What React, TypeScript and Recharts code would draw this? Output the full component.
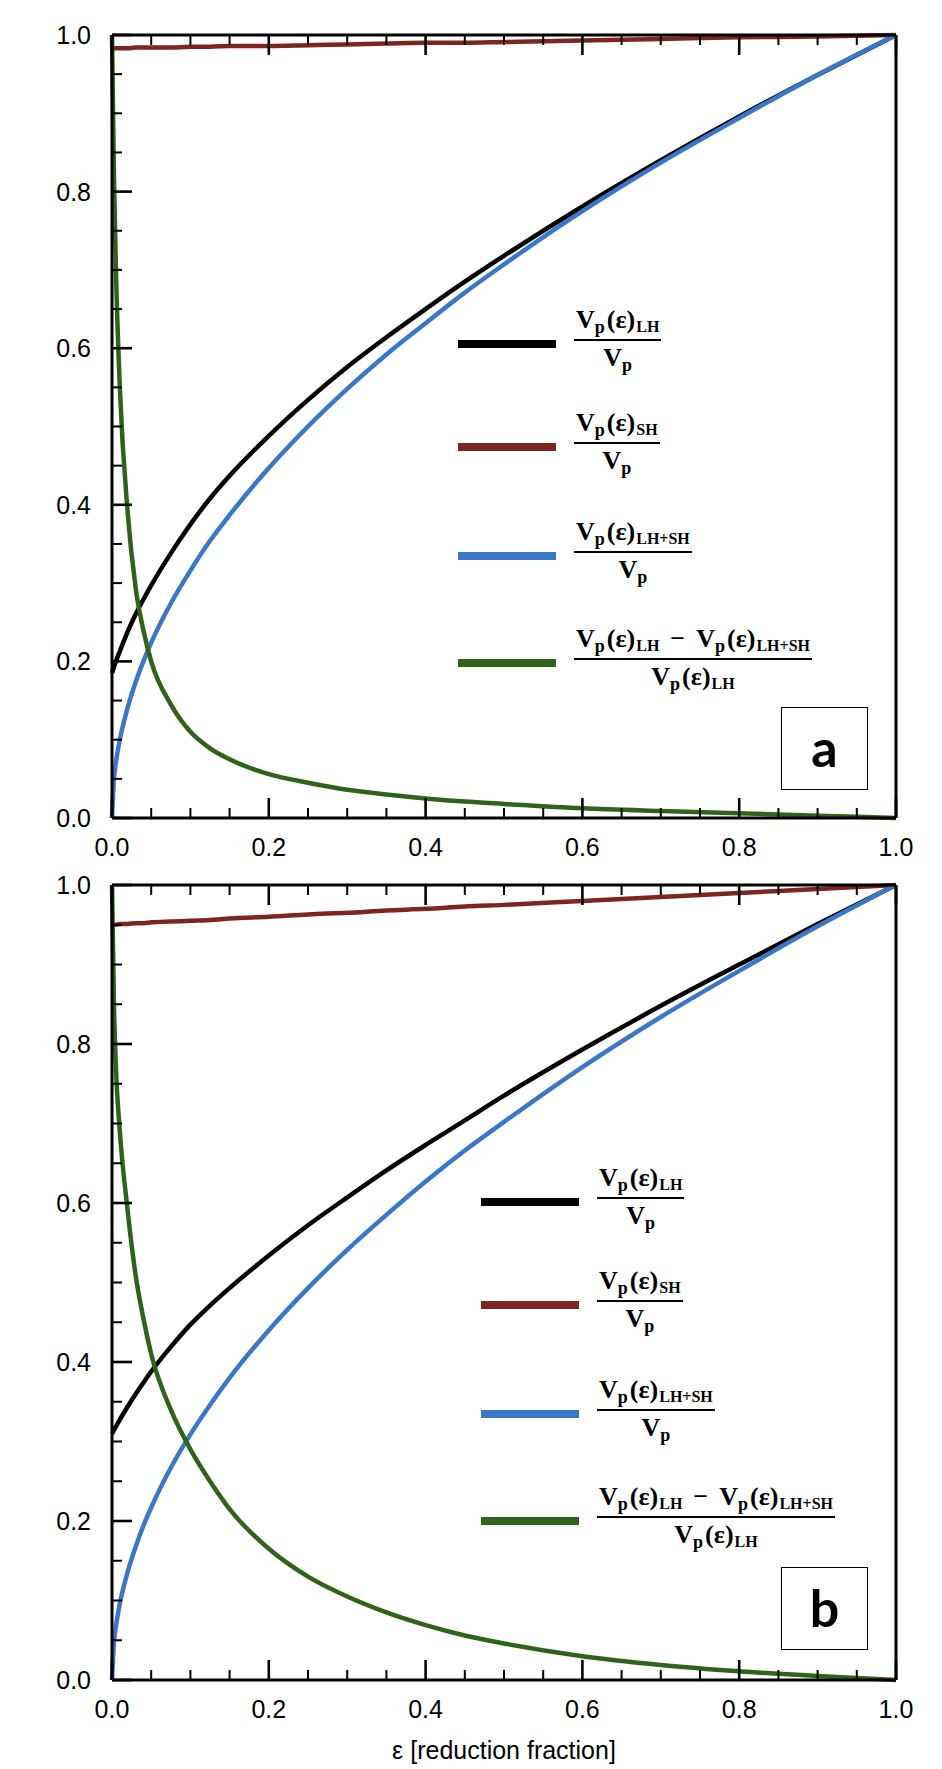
import React from 'react';
import { LineChart, Line, XAxis, YAxis, Legend } from 'recharts';

// ---------- data ----------
const EPS = [0, 0.0025, 0.005, 0.01, 0.02, 0.03, 0.04, 0.05, 0.075, 0.1, 0.125, 0.15, 0.2, 0.25, 0.3, 0.35, 0.4, 0.45, 0.5, 0.6, 0.7, 0.8, 0.9, 1.0];

// panel a
const A_LH = [0.185, 0.193, 0.2, 0.213, 0.238, 0.26, 0.279, 0.297, 0.338, 0.375, 0.408, 0.437, 0.488, 0.534, 0.576, 0.614, 0.65, 0.685, 0.718, 0.781, 0.84, 0.896, 0.949, 1.0];
const A_SH = [0.983, 0.983, 0.983, 0.983, 0.983, 0.984, 0.984, 0.984, 0.984, 0.985, 0.985, 0.986, 0.986, 0.987, 0.988, 0.989, 0.99, 0.99, 0.991, 0.993, 0.995, 0.997, 0.998, 1.0];
const A_LHSH = [0, 0.05, 0.071, 0.1, 0.141, 0.173, 0.2, 0.224, 0.274, 0.316, 0.354, 0.387, 0.447, 0.5, 0.548, 0.592, 0.632, 0.671, 0.707, 0.775, 0.837, 0.894, 0.949, 1.0];
const A_DIFF = [1, 0.82, 0.7, 0.55, 0.39, 0.295, 0.24, 0.2, 0.145, 0.11, 0.089, 0.075, 0.056, 0.045, 0.036, 0.03, 0.025, 0.021, 0.018, 0.0125, 0.009, 0.006, 0.003, 0];

// panel b
const B_LH = [0.31, 0.3144, 0.3188, 0.3275, 0.344, 0.3595, 0.374, 0.388, 0.419, 0.447, 0.471, 0.493, 0.534, 0.572, 0.607, 0.641, 0.673, 0.704, 0.735, 0.793, 0.848, 0.9, 0.951, 1.0];
const B_SH = [0.95, 0.95, 0.95, 0.951, 0.951, 0.952, 0.952, 0.953, 0.954, 0.955, 0.956, 0.958, 0.96, 0.963, 0.965, 0.968, 0.97, 0.973, 0.975, 0.98, 0.985, 0.99, 0.995, 1.0];
const B_LHSH = [0, 0.047, 0.067, 0.096, 0.136, 0.167, 0.194, 0.217, 0.267, 0.309, 0.346, 0.38, 0.44, 0.493, 0.541, 0.585, 0.627, 0.666, 0.702, 0.771, 0.834, 0.892, 0.948, 1.0];
const B_DIFF = [1, 0.85, 0.77, 0.69, 0.59, 0.51, 0.455, 0.41, 0.34, 0.29, 0.25, 0.215, 0.165, 0.13, 0.105, 0.085, 0.069, 0.056, 0.046, 0.03, 0.019, 0.011, 0.005, 0];

const ALL_TICKS = [0, 0.05, 0.1, 0.15, 0.2, 0.25, 0.3, 0.35, 0.4, 0.45, 0.5, 0.55, 0.6, 0.65, 0.7, 0.75, 0.8, 0.85, 0.9, 0.95, 1.0];
const MAJOR_TICKS = [0, 0.2, 0.4, 0.6, 0.8, 1.0];
const TICK_LABELS = ['0.0', '0.2', '0.4', '0.6', '0.8', '1.0'];
const X_LABEL = 'ε [reduction fraction]';
const PANEL_LETTERS = ['a', 'b'];

const SERIES_KEYS = ['lh', 'sh', 'lhsh', 'diff'];
const SERIES_COLORS = ['#000000', '#7f2521', '#3a77c9', '#2d6419'];

type Term = { eps: boolean; sub: string } | string;
const LABEL_NUM: Term[][] = [
  [{ eps: true, sub: 'LH' }],
  [{ eps: true, sub: 'SH' }],
  [{ eps: true, sub: 'LH+SH' }],
  [{ eps: true, sub: 'LH' }, '−', { eps: true, sub: 'LH+SH' }],
];
const LABEL_DEN: Term[][] = [
  [{ eps: false, sub: '' }],
  [{ eps: false, sub: '' }],
  [{ eps: false, sub: '' }],
  [{ eps: true, sub: 'LH' }],
];

const buildData = (lh: number[], sh: number[], lhsh: number[], diff: number[]) =>
  EPS.map((x, i) => ({ x, lh: lh[i], sh: sh[i], lhsh: lhsh[i], diff: diff[i] }));

const DATA_A = buildData(A_LH, A_SH, A_LHSH, A_DIFF);
const DATA_B = buildData(B_LH, B_SH, B_LHSH, B_DIFF);

// ---------- styling ----------
const SANS = "'Liberation Sans', Arial, Helvetica, sans-serif";
const SERIF = "'Liberation Serif', 'DejaVu Serif', serif";
const W = 942;
const PLOT_LEFT = 112;
const PLOT_RIGHT_MARGIN = 46;
const ROW_OFFSETS = [0, 103, 212, 319];

const majorIndex = (v: number) => MAJOR_TICKS.findIndex((m) => Math.abs(m - v) < 1e-6);

const makeTick = (side: 'bottom' | 'top' | 'left' | 'right', showLabel: boolean) => (props: any) => {
  const { x, y, payload } = props;
  const v = payload.value;
  const mi = majorIndex(v);
  const major = mi >= 0;
  const len = major ? 20 : 10;
  const sw = major ? 2.6 : 2;
  let x2 = x, y2 = y;
  if (side === 'bottom') y2 = y - len;
  if (side === 'top') y2 = y + len;
  if (side === 'left') x2 = x + len;
  if (side === 'right') x2 = x - len;
  let label = null;
  if (showLabel && major) {
    if (side === 'bottom') {
      label = (
        <text x={x} y={y + 38} textAnchor="middle" fontFamily={SANS} fontSize={25} fill="#000">
          {TICK_LABELS[mi]}
        </text>
      );
    } else if (side === 'left') {
      label = (
        <text x={x - 21} y={y + 9} textAnchor="end" fontFamily={SANS} fontSize={25} fill="#000">
          {TICK_LABELS[mi]}
        </text>
      );
    }
  }
  return (
    <g>
      <line x1={x} y1={y} x2={x2} y2={y2} stroke="#000" strokeWidth={sw} />
      {label}
    </g>
  );
};

const TermView = ({ t }: { t: Term }) => {
  if (typeof t === 'string') return <span style={{ margin: '0 11px' }}>{t}</span>;
  return (
    <span>
      V
      <span style={{ fontSize: 18, lineHeight: 0, verticalAlign: '-5px' }}>p</span>
      {t.eps ? <span style={{ marginLeft: 2 }}>(ε)</span> : null}
      {t.sub ? <span style={{ fontSize: 16, lineHeight: 0, verticalAlign: '-4px', marginLeft: 1 }}>{t.sub}</span> : null}
    </span>
  );
};

const LegendContent = (props: any) => {
  const payload = (props.payload || [])
    .slice()
    .sort((a: any, b: any) => SERIES_KEYS.indexOf(a.dataKey) - SERIES_KEYS.indexOf(b.dataKey));
  return (
    <div style={{ position: 'relative', width: 420, height: 360 }}>
      {payload.map((entry: any) => {
        const idx = SERIES_KEYS.indexOf(entry.dataKey);
        return (
          <div key={entry.dataKey} style={{ position: 'absolute', left: 0, top: ROW_OFFSETS[idx] }}>
            <div style={{ position: 'absolute', left: 0, top: -4, width: 98, height: 8, background: entry.color }} />
            <div
              style={{
                position: 'absolute',
                left: 116,
                top: -38,
                display: 'flex',
                flexDirection: 'column',
                alignItems: 'stretch',
                fontFamily: SERIF,
                fontWeight: 700,
                fontSize: 26,
                color: '#000',
                whiteSpace: 'nowrap',
              }}
            >
              <div style={{ height: 28, lineHeight: '28px', padding: '0 2px 5px 2px', textAlign: 'center' }}>
                {LABEL_NUM[idx].map((t, k) => (
                  <TermView key={k} t={t} />
                ))}
              </div>
              <div style={{ height: 2, background: '#000' }} />
              <div style={{ height: 28, lineHeight: '28px', paddingTop: 3, textAlign: 'center' }}>
                {LABEL_DEN[idx].map((t, k) => (
                  <TermView key={k} t={t} />
                ))}
              </div>
            </div>
          </div>
        );
      })}
    </div>
  );
};

const XLabel = (props: any) => {
  const vb = props.viewBox || { x: PLOT_LEFT, y: 810, width: 784, height: 1 };
  return (
    <text x={vb.x + vb.width / 2} y={vb.y + 79} textAnchor="middle" fontFamily={SANS} fontSize={25} fill="#000">
      {X_LABEL}
    </text>
  );
};

type PanelProps = {
  data: any[];
  height: number;
  top: number;
  bottom: number;
  legendLeft: number;
  legendTop: number;
  letter: string;
  boxTop: number;
  showXLabel: boolean;
};

const Panel = ({ data, height, top, bottom, legendLeft, legendTop, letter, boxTop, showXLabel }: PanelProps) => {
  const axisLine = { stroke: '#000', strokeWidth: 3 };
  return (
    <div style={{ position: 'relative', width: W, height }}>
      <LineChart
        width={W}
        height={height}
        data={data}
        margin={{ top: top - 1, right: PLOT_RIGHT_MARGIN - 1, bottom: bottom - 1, left: PLOT_LEFT - 1 }}
      >
        <XAxis
          xAxisId="b"
          dataKey="x"
          type="number"
          domain={[0, 1]}
          ticks={ALL_TICKS}
          interval={0}
          height={1}
          tickSize={0}
          tickMargin={0}
          tickLine={false}
          axisLine={axisLine}
          tick={makeTick('bottom', true)}
          label={showXLabel ? (p: any) => <XLabel {...p} /> : undefined}
        />
        <XAxis
          xAxisId="t"
          orientation="top"
          dataKey="x"
          type="number"
          domain={[0, 1]}
          ticks={ALL_TICKS}
          interval={0}
          height={1}
          tickSize={0}
          tickMargin={0}
          tickLine={false}
          axisLine={axisLine}
          tick={makeTick('top', false)}
        />
        <YAxis
          yAxisId="l"
          type="number"
          domain={[0, 1]}
          ticks={ALL_TICKS}
          interval={0}
          width={1}
          tickSize={0}
          tickMargin={0}
          tickLine={false}
          axisLine={axisLine}
          tick={makeTick('left', true)}
        />
        <YAxis
          yAxisId="r"
          orientation="right"
          type="number"
          domain={[0, 1]}
          ticks={ALL_TICKS}
          interval={0}
          width={1}
          tickSize={0}
          tickMargin={0}
          tickLine={false}
          axisLine={axisLine}
          tick={makeTick('right', false)}
        />
        {SERIES_KEYS.map((k, i) => (
          <Line
            key={k}
            xAxisId="b"
            yAxisId="l"
            dataKey={k}
            type="monotone"
            stroke={SERIES_COLORS[i]}
            strokeWidth={4.5}
            dot={false}
            activeDot={false}
            isAnimationActive={false}
          />
        ))}
        <Legend
          layout="vertical"
          align="center"
          verticalAlign="middle"
          content={(p: any) => <LegendContent {...p} />}
          wrapperStyle={{ left: legendLeft, top: legendTop, width: 440, height: 360 }}
        />
      </LineChart>
      <div
        style={{
          position: 'absolute',
          left: 781,
          top: boxTop,
          width: 87,
          height: 83,
          boxSizing: 'border-box',
          border: '1.5px solid #000',
          background: '#fff',
          display: 'flex',
          alignItems: 'center',
          justifyContent: 'center',
          fontFamily: "Lato, 'Open Sans', sans-serif",
          fontWeight: 700,
          fontSize: 52,
          color: '#000',
          lineHeight: 1,
        }}
      >
        <span style={{ position: 'relative', top: -2 }}>{letter}</span>
      </div>
    </div>
  );
};

export default function App() {
  return (
    <div style={{ position: 'absolute', left: 0, top: 0, width: W, height: 1769, background: '#fff' }}>
      <Panel
        data={DATA_A}
        height={870}
        top={35}
        bottom={52}
        legendLeft={458}
        legendTop={344}
        letter={PANEL_LETTERS[0]}
        boxTop={707}
        showXLabel={false}
      />
      <Panel
        data={DATA_B}
        height={899}
        top={15}
        bottom={89}
        legendLeft={481}
        legendTop={332}
        letter={PANEL_LETTERS[1]}
        boxTop={697}
        showXLabel={true}
      />
    </div>
  );
}
